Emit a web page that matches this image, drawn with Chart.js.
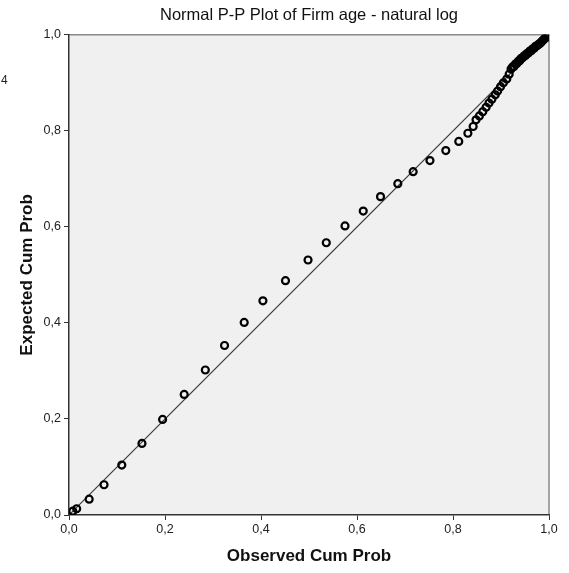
<!DOCTYPE html>
<html>
<head>
<meta charset="utf-8">
<script src="https://cdn.jsdelivr.net/npm/chart.js@4.4.1/dist/chart.umd.min.js"></script>
<style>
  html, body { margin: 0; padding: 0; background: #fff; }
  #wrap { width: 569px; height: 573px; }
</style>
</head>
<body>
<div id="wrap"><canvas id="ppPlot" width="569" height="573"></canvas></div>
<script>
// observed vs expected cumulative probability
const observed = [
  0.008, 0.016, 0.042, 0.073, 0.110, 0.152, 0.195, 0.240, 0.284, 0.324,
  0.365, 0.404, 0.451, 0.498, 0.536, 0.575, 0.613, 0.649, 0.685, 0.717,
  0.752, 0.785, 0.812, 0.831, 0.842, 0.848, 0.855, 0.862, 0.869, 0.875,
  0.881, 0.888, 0.893, 0.899, 0.905, 0.912, 0.917,
  0.921, 0.924, 0.927, 0.930, 0.933, 0.936, 0.939, 0.942, 0.945, 0.948,
  0.951, 0.954, 0.957, 0.960, 0.963, 0.966, 0.969, 0.972, 0.975, 0.978,
  0.981, 0.984, 0.987, 0.990, 0.993, 0.996, 0.998, 0.999
];
const expected = [
  0.008, 0.013, 0.033, 0.063, 0.104, 0.149, 0.199, 0.251, 0.302, 0.353,
  0.401, 0.446, 0.488, 0.531, 0.567, 0.602, 0.633, 0.663, 0.690, 0.715,
  0.738, 0.759, 0.778, 0.795, 0.809, 0.823, 0.831, 0.840, 0.849, 0.858,
  0.866, 0.875, 0.883, 0.892, 0.900, 0.908, 0.918,
  0.929, 0.933, 0.934, 0.939, 0.940, 0.945, 0.946, 0.951, 0.952, 0.956,
  0.957, 0.961, 0.962, 0.966, 0.967, 0.971, 0.972, 0.976, 0.977, 0.980,
  0.982, 0.985, 0.988, 0.991, 0.994, 0.996, 0.998, 0.999
];
const refLine = [0, 1];
const tickValues = [0, 0.2, 0.4, 0.6, 0.8, 1.0];

const points = observed.map((v, i) => ({ x: v, y: expected[i] }));
const fmt = v => v.toFixed(1).replace('.', ',');
const FONT = '"Liberation Sans", Arial, sans-serif';

const plotBg = {
  id: 'plotBg',
  beforeDraw(chart) {
    const { ctx, chartArea: a } = chart;
    ctx.save();
    ctx.fillStyle = '#f0f0f0';
    ctx.fillRect(a.left, a.top, a.right - a.left, a.bottom - a.top);
    ctx.strokeStyle = '#8a8a8a';
    ctx.lineWidth = 1.5;
    ctx.beginPath();
    ctx.moveTo(a.left, a.top);
    ctx.lineTo(a.right, a.top);
    ctx.lineTo(a.right, a.bottom);
    ctx.stroke();
    ctx.restore();
  },
  afterDraw(chart) {
    const ctx = chart.ctx;
    ctx.save();
    ctx.fillStyle = '#222';
    ctx.font = '12px ' + FONT;
    ctx.textBaseline = 'middle';
    ctx.fillText('4', 1, 81);
    ctx.restore();
  }
};

new Chart('ppPlot', {
  type: 'scatter',
  data: {
    datasets: [{
      type: 'line',
      data: refLine.map(v => ({ x: v, y: v })),
      borderColor: '#3a3a3a',
      borderWidth: 1.2,
      pointRadius: 0,
      order: 2
    }, {
      data: points,
      pointStyle: 'circle',
      pointRadius: 3.5,
      borderWidth: 2.2,
      borderColor: '#000',
      backgroundColor: 'rgba(0,0,0,0)',
      order: 1
    }]
  },
  options: {
    responsive: false,
    animation: false,
    layout: { padding: { top: 0, right: 20, left: 0, bottom: 0 } },
    plugins: {
      legend: { display: false },
      tooltip: { enabled: false },
      title: {
        display: true,
        text: 'Normal P-P Plot of Firm age - natural log',
        fullSize: false,
        color: '#111',
        font: { family: FONT, size: 16.5, weight: 'normal', lineHeight: 1.2 },
        padding: { top: 6, bottom: 9 }
      }
    },
    scales: {
      x: {
        type: 'linear', min: 0, max: 1,
        afterBuildTicks: s => { s.ticks = tickValues.map(v => ({ value: v })); },
        afterFit: s => { s.height = 58; },
        grid: { drawOnChartArea: false, drawTicks: true, tickLength: 5, color: '#333' },
        border: { color: '#333', width: 1.5 },
        ticks: { callback: v => fmt(v), color: '#222', padding: 2, maxRotation: 0,
                 font: { family: FONT, size: 12.5 } },
        title: { display: true, text: 'Observed Cum Prob', color: '#111', padding: { bottom: 6 },
                 font: { family: FONT, size: 17, weight: 'bold', lineHeight: 1.2 } }
      },
      y: {
        type: 'linear', min: 0, max: 1,
        afterBuildTicks: s => { s.ticks = tickValues.map(v => ({ value: v })); },
        afterFit: s => { s.width = 69; },
        grid: { drawOnChartArea: false, drawTicks: true, tickLength: 5, color: '#333' },
        border: { color: '#333', width: 1.5 },
        ticks: { callback: v => fmt(v), color: '#222', padding: 3,
                 font: { family: FONT, size: 12.5 } },
        title: { display: true, text: 'Expected Cum Prob', color: '#111', padding: { top: 17 },
                 font: { family: FONT, size: 17, weight: 'bold', lineHeight: 1.2 } }
      }
    }
  },
  plugins: [plotBg]
});
</script>
</body>
</html>
